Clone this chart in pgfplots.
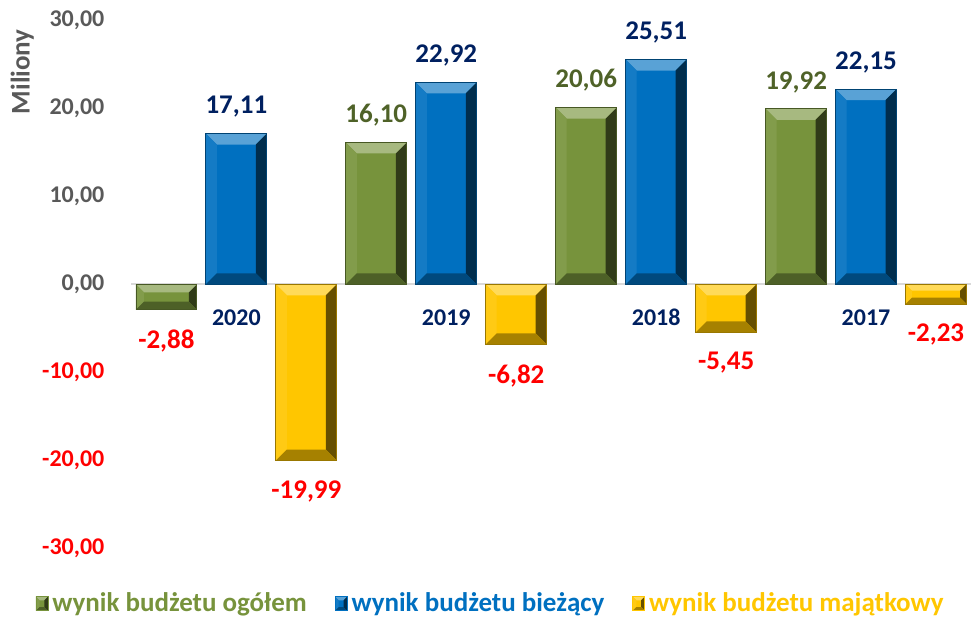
\documentclass[border=0pt]{standalone}
\usepackage{pgfplots}
\pgfplotsset{compat=1.18}
\usepackage{fontspec}
\setmainfont{Carlito}
\definecolor{cgreen}{HTML}{77933C}
\definecolor{cblue}{HTML}{0070C0}
\definecolor{cyellow}{HTML}{FFC600}
\definecolor{dgreen}{HTML}{4F6228}
\definecolor{navy}{HTML}{002060}
\definecolor{tgray}{HTML}{595959}
\newcommand\bv{5.5pt}
\tikzset{
  bv/.code={\def\bv{#1}},
  bevel/.style={path picture={
    \tikzset{every path/.style={}}
    \pgftransformreset
    \path (path picture bounding box.south west) coordinate (SW)
          (path picture bounding box.north east) coordinate (NE)
          (path picture bounding box.north west) coordinate (NW)
          (path picture bounding box.south east) coordinate (SE);
    \fill[#1!65!white] (NW) -- (NE) -- ([shift={(-\bv,-\bv)}]NE) -- ([shift={(\bv,-\bv)}]NW) -- cycle;
    \fill[#1!92!white] (NW) -- ([shift={(\bv,-\bv)}]NW) -- ([shift={(\bv,\bv)}]SW) -- (SW) -- cycle;
    \fill[#1!40!black] (NE) -- (SE) -- ([shift={(-\bv,\bv)}]SE) -- ([shift={(-\bv,-\bv)}]NE) -- cycle;
    \fill[#1!65!black] (SW) -- (SE) -- ([shift={(-\bv,\bv)}]SE) -- ([shift={(\bv,\bv)}]SW) -- cycle;
  }},
  lab/.style={font=\bfseries\fontsize{13.5}{16}\selectfont},
  tlab/.style={font=\bfseries\fontsize{12}{14}\selectfont}
}
\newcommand\legsq[1]{\fill[#1, bv=1.8pt, bevel=#1] (0pt,-3.5pt) rectangle (6pt,3.5pt);}
\pgfplotsset{
  gbar/.style={fill=cgreen, draw=cgreen!60!black, bevel=cgreen, bar shift=-35pt,
    legend image code/.code={\legsq{cgreen}}},
  bbar/.style={fill=cblue, draw=cblue!60!black, bevel=cblue, bar shift=0pt,
    every node near coord/.append style={text=navy, yshift=4.5pt},
    legend image code/.code={\legsq{cblue}}},
  ybarr/.style={fill=cyellow, draw=cyellow!60!black, bevel=cyellow, bar shift=35pt,
    every node near coord/.append style={text=red, yshift=-6.5pt},
    legend image code/.code={\legsq{cyellow}}},
  pos/.style={every node near coord/.append style={text=dgreen, yshift=4.5pt}},
  neg/.style={every node near coord/.append style={text=red, yshift=-6.5pt}},
}
\begin{document}
\begin{tikzpicture}
\begin{axis}[
  scale only axis, width=420pt, height=264.5pt,
  xmin=-0.5, xmax=3.5, ymin=-30, ymax=30,
  ybar, bar width=30.5pt,
  axis x line=middle, axis y line=left,
  x axis line style={draw=black!15, line width=1pt, -},
  y axis line style={draw=none},
  major tick length=0pt,
  xtick={0,1,2,3}, xticklabels={2020,2019,2018,2017},
  xticklabel style={tlab, text=navy, yshift=-9pt},
  ytick={-30,-20,-10,0,10,20,30},
  yticklabels={{\color{red}-30,00},{\color{red}-20,00},{\color{red}-10,00},{0,00},{10,00},{20,00},{30,00}},
  yticklabel style={tlab, text=tgray, xshift=-10pt},
  nodes near coords={\pgfmathprintnumber[fixed,fixed zerofill,precision=2,use comma,assume math mode=true]{\pgfplotspointmeta}},
  every node near coord/.append style={lab},
  legend columns=3,
  legend style={at={(0.429,-0.104)}, anchor=center, draw=none, fill=none, lab,
    /tikz/every even column/.append style={column sep=12pt},
    /tikz/every odd column/.append style={column sep=0pt}},
]
% wynik budżetu ogółem
\addplot[gbar, pos] coordinates {(1,16.10)};
\addlegendentry{\textcolor{cgreen}{wynik budżetu ogółem}}
% wynik budżetu bieżący
\addplot[bbar] coordinates {(0,17.11)};
\addlegendentry{\textcolor{cblue}{wynik budżetu bieżący}}
% wynik budżetu majątkowy
\addplot[ybarr] coordinates {(0,-19.99)};
\addlegendentry{\textcolor{cyellow}{wynik budżetu majątkowy}}
% remaining bars, one plot each so that every bar gets its own bevel
\addplot[gbar, neg, bv=4pt, forget plot] coordinates {(0,-2.88)};
\addplot[gbar, pos, forget plot] coordinates {(2,20.06)};
\addplot[gbar, pos, forget plot] coordinates {(3,19.92)};
\addplot[bbar, forget plot] coordinates {(1,22.92)};
\addplot[bbar, forget plot] coordinates {(2,25.51)};
\addplot[bbar, forget plot] coordinates {(3,22.15)};
\addplot[ybarr, forget plot] coordinates {(1,-6.82)};
\addplot[ybarr, forget plot] coordinates {(2,-5.45)};
\addplot[ybarr, bv=3.2pt, forget plot] coordinates {(3,-2.23)};
\coordinate (M) at (rel axis cs:-0.130,0.902);
\coordinate (A) at (rel axis cs:0,0);
\coordinate (B) at (rel axis cs:1,1);
\end{axis}
\node[rotate=90, lab, text=tgray] at (M) {Miliony};
\pgfresetboundingbox
\path ([xshift=-65.75pt,yshift=-35pt]A) rectangle ([yshift=10pt]B);
\end{tikzpicture}
\end{document}
